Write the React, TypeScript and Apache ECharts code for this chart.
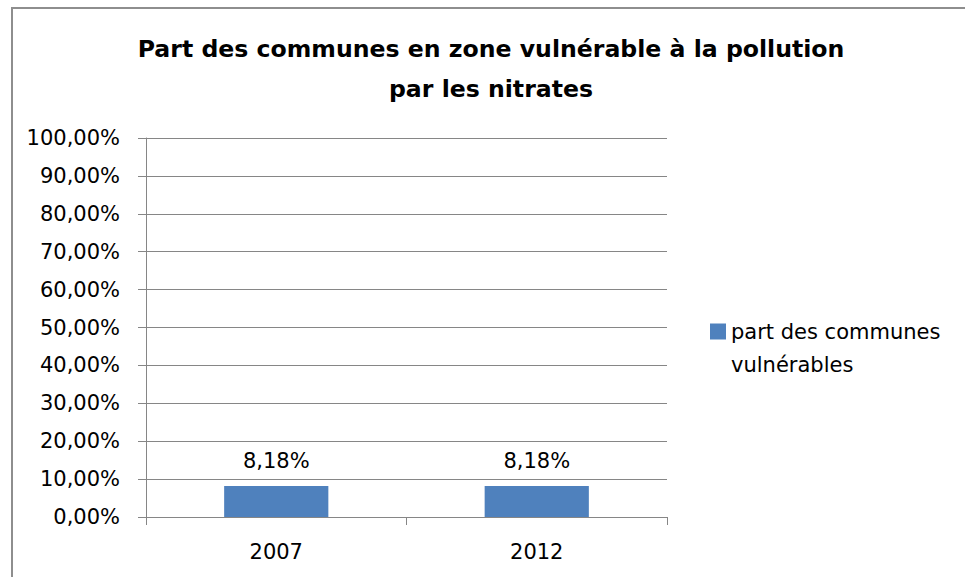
import React, { useEffect, useRef } from "react";
import * as echarts from "echarts";

const titleLines = ["Part des communes en zone vulnérable à la pollution", "par les nitrates"];
const categories = ["2007", "2012"];
const seriesName = "part des communes vulnérables";
const legendLines = ["part des communes", "vulnérables"];
const values = [8.18, 8.18];
const yMin = 0;
const yMax = 100;
const yInterval = 10;

const FONT = "DejaVu Sans";

export default function App() {
  const ref = useRef<HTMLDivElement>(null);
  useEffect(() => {
    if (!ref.current) return;
    const chart = echarts.init(ref.current, null, { renderer: "svg" });
    const fmt = (v: number) => v.toFixed(2).replace(".", ",") + "%";
    chart.setOption({
      animation: false,
      backgroundColor: "#ffffff",
      title: {
        text: titleLines.join("\n"),
        left: 486,
        top: 24,
        textAlign: "center",
        textStyle: { fontFamily: FONT, fontWeight: "bold", fontSize: 23.6, lineHeight: 40, color: "#000" },
      },
      legend: {
        left: 710,
        top: 315,
        padding: 0,
        itemWidth: 16,
        itemHeight: 49,
        itemGap: 6,
        orient: "vertical",
        icon: "path://M0,0L16,0L16,16L0,16Z M0,49L0,49",
        data: [seriesName],
        formatter: () => legendLines.join("\n"),
        textStyle: { fontFamily: FONT, fontSize: 21, lineHeight: 33, color: "#000" },
      },
      grid: { left: 146, right: 298, top: 138, bottom: 60 },
      xAxis: {
        type: "category",
        data: categories,
        axisLine: { lineStyle: { color: "#868686", width: 1 } },
        axisTick: { show: true, length: 8, lineStyle: { color: "#868686" } },
        axisLabel: { fontFamily: FONT, fontSize: 21, color: "#000", margin: 24 },
      },
      yAxis: {
        type: "value",
        min: yMin,
        max: yMax,
        interval: yInterval,
        axisLine: { show: true, lineStyle: { color: "#868686", width: 1 } },
        axisTick: { show: true, length: 8, lineStyle: { color: "#868686" } },
        axisLabel: { fontFamily: FONT, fontSize: 21, color: "#000", margin: 26, formatter: fmt },
        splitLine: { show: true, lineStyle: { color: "#868686", width: 1 } },
      },
      series: [
        {
          name: seriesName,
          type: "bar",
          data: values,
          barCategoryGap: "60%",
          itemStyle: { color: "#4F81BD" },
          label: {
            show: true,
            position: "top",
            distance: 14,
            fontFamily: FONT,
            fontSize: 21,
            color: "#000",
            formatter: (p: any) => fmt(p.value),
          },
        },
      ],
      graphic: [
        {
          type: "rect",
          shape: { x: 12, y: 8, width: 1000, height: 700 },
          style: { fill: "none", stroke: "#8e8e8e", lineWidth: 2 },
          silent: true,
        },
      ],
    });
    return () => chart.dispose();
  }, []);
  return <div ref={ref} style={{ position: "fixed", left: 0, top: 0, width: 965, height: 577 }} />;
}
